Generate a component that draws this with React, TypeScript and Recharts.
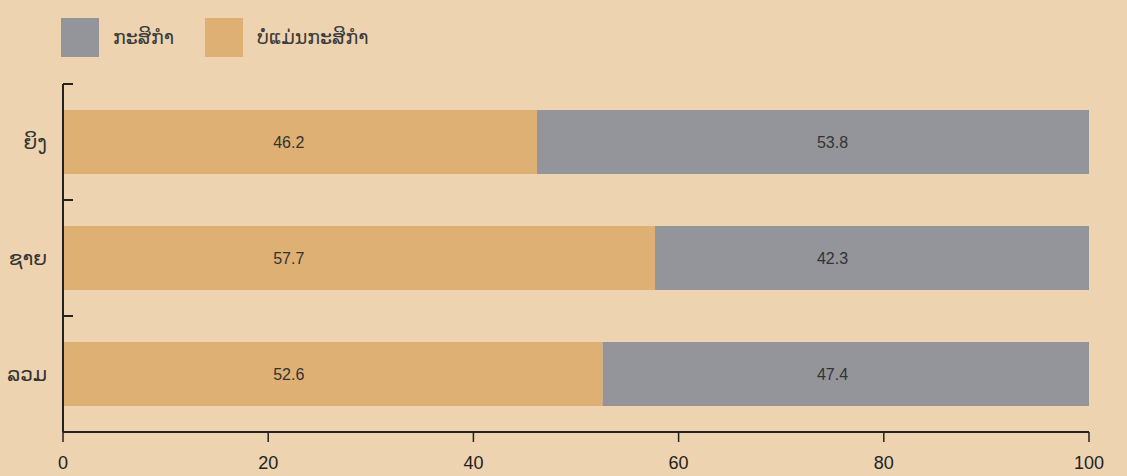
import { BarChart, Bar, XAxis, YAxis, Legend, ReferenceDot } from "recharts";

const categories = ["ຍິງ", "ຊາຍ", "ລວມ"];
const agriValues = [53.8, 42.3, 47.4];
const nonAgriValues = [46.2, 57.7, 52.6];
const xTicks = [0, 20, 40, 60, 80, 100];
// where the value labels sit on the 0-100 axis: [non-agri, agri]
const labelPositions = [22, 75];

const series = [
  { key: "agri", name: "ກະສິກຳ", color: "#94959A" },
  { key: "nonAgri", name: "ບໍ່ແມ່ນກະສິກຳ", color: "#DEB074" },
];

const data = categories.map((name, i) => ({
  name,
  agri: agriValues[i],
  nonAgri: nonAgriValues[i],
}));

const WIDTH = 1127;
const HEIGHT = 476;
const MARGIN = { top: 84, right: 38, bottom: 0, left: 0 };
const Y_AXIS_W = 63;
const X_AXIS_H = 44;
const BAND = (HEIGHT - MARGIN.top - MARGIN.bottom - X_AXIS_H) / categories.length;
const INK = "#222";

function CategoryTick(props: any) {
  const { x, y, payload } = props;
  const axisX = x + 16;
  const top = y - BAND / 2;
  return (
    <g>
      <line x1={axisX} x2={axisX + 10} y1={top} y2={top} stroke={INK} strokeWidth={2} />
      <text x={x} y={y} textAnchor="end" dominantBaseline="central" fill="#333" fontSize={20}>
        {payload.value}
      </text>
    </g>
  );
}

function LegendBox() {
  return (
    <div style={{ display: "flex", alignItems: "center" }}>
      {series.map((s) => (
        <div key={s.key} style={{ display: "flex", alignItems: "center", marginRight: 31 }}>
          <div style={{ width: 38, height: 39, background: s.color, marginRight: 14 }} />
          <span style={{ fontSize: 19, color: "#3a3a3a" }}>{s.name}</span>
        </div>
      ))}
    </div>
  );
}

export default function App() {
  return (
    <div
      style={{
        position: "absolute",
        left: 0,
        top: 0,
        width: WIDTH,
        height: HEIGHT,
        background: "#EED3B0",
        fontFamily: "'Liberation Sans', 'DejaVu Sans', sans-serif",
      }}
    >
      <BarChart
        width={WIDTH}
        height={HEIGHT}
        data={data}
        layout="vertical"
        margin={MARGIN}
        barCategoryGap="22.4%"
      >
        <Legend
          layout="horizontal"
          verticalAlign="middle"
          align="center"
          content={<LegendBox />}
          wrapperStyle={{ top: 18, left: 61, width: "auto", height: "auto" }}
        />
        <XAxis
          type="number"
          domain={[0, 100]}
          ticks={xTicks}
          height={X_AXIS_H}
          axisLine={{ stroke: INK, strokeWidth: 2 }}
          tickLine={{ stroke: INK, strokeWidth: 1.5 }}
          tickSize={10}
          tickMargin={14}
          tick={{ fill: INK, fontSize: 18 }}
        />
        <YAxis
          type="category"
          dataKey="name"
          width={Y_AXIS_W}
          axisLine={{ stroke: INK, strokeWidth: 2 }}
          tickLine={false}
          tickSize={0}
          tickMargin={16}
          tick={<CategoryTick />}
        />
        <Bar dataKey="nonAgri" name="ບໍ່ແມ່ນກະສິກຳ" stackId="a" fill="#DEB074" isAnimationActive={false} />
        <Bar dataKey="agri" name="ກະສິກຳ" stackId="a" fill="#94959A" isAnimationActive={false} />
        {categories.map((c, i) =>
          labelPositions.map((pos, j) => (
            <ReferenceDot
              key={`${c}-${j}`}
              x={pos}
              y={c}
              r={1}
              fill="none"
              stroke="none"
              ifOverflow="visible"
              label={{
                value: (j === 0 ? nonAgriValues : agriValues)[i].toFixed(1),
                position: "center",
                fill: "#333",
                fontSize: 16,
              }}
            />
          ))
        )}
      </BarChart>
    </div>
  );
}
